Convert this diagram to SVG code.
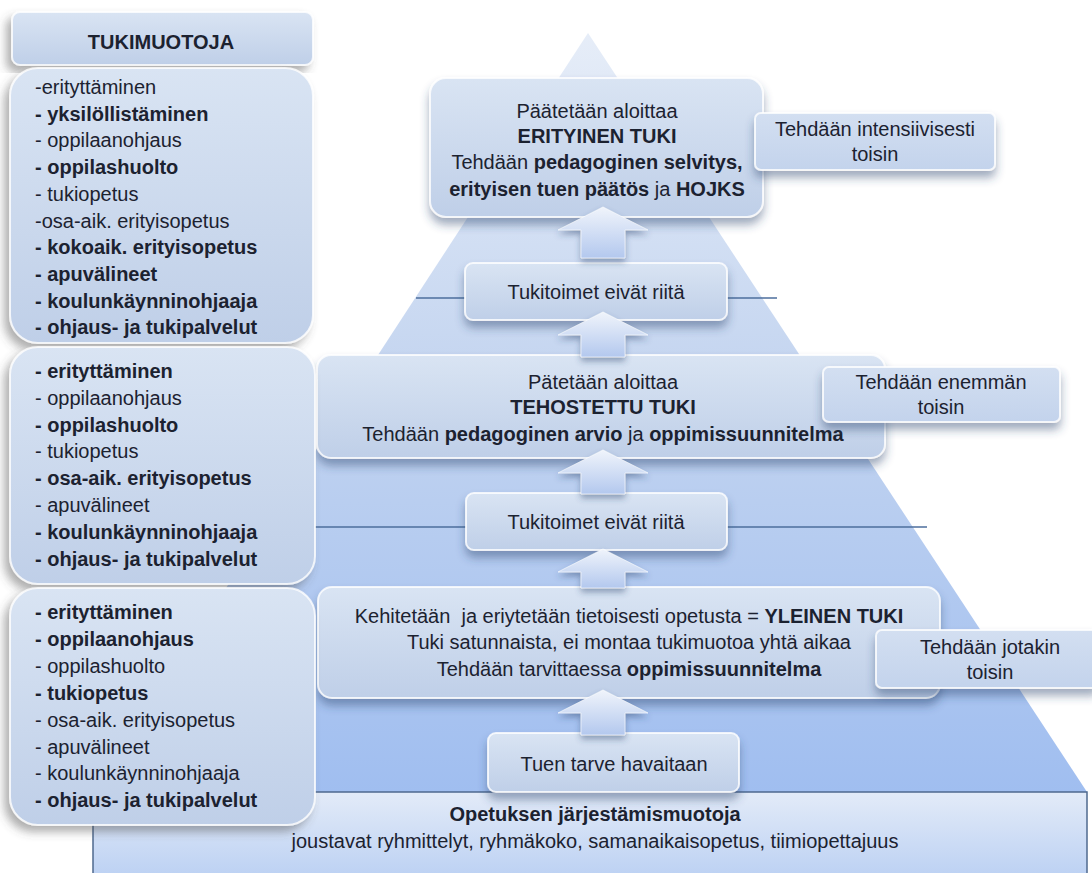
<svg xmlns="http://www.w3.org/2000/svg" width="1092" height="873" viewBox="0 0 1092 873">
<defs>
<linearGradient id="pyr" x1="0" y1="33" x2="0" y2="792" gradientUnits="userSpaceOnUse">
<stop offset="0" stop-color="#e6edf8"/><stop offset="0.45" stop-color="#c4d5f0"/><stop offset="1" stop-color="#a0bef0"/>
</linearGradient>
<linearGradient id="baseG" x1="0" y1="0" x2="0" y2="1">
<stop offset="0" stop-color="#e3ebf8"/><stop offset="1" stop-color="#bcd1f3"/>
</linearGradient>
<linearGradient id="boxG" x1="0" y1="0" x2="0" y2="1">
<stop offset="0" stop-color="#d9e4f3"/><stop offset="1" stop-color="#bfcfe8"/>
</linearGradient>
<linearGradient id="sideG" x1="0" y1="0" x2="0" y2="1">
<stop offset="0" stop-color="#d3dff1"/><stop offset="1" stop-color="#c3d3ec"/>
</linearGradient>
<linearGradient id="arrG" x1="0" y1="0" x2="0" y2="1">
<stop offset="0" stop-color="#f0f4fb"/><stop offset="1" stop-color="#b3c8ee"/>
</linearGradient>
<filter id="sh" x="-10%" y="-20%" width="120%" height="160%">
<feDropShadow dx="0" dy="7" stdDeviation="5" flood-color="#2b4470" flood-opacity="0.45"/>
</filter>
<filter id="shL" x="-10%" y="-10%" width="120%" height="125%">
<feDropShadow dx="-5" dy="6" stdDeviation="5" flood-color="#4a4a4a" flood-opacity="0.45"/>
</filter>
<filter id="shA" x="-20%" y="-20%" width="140%" height="160%">
<feDropShadow dx="0" dy="4" stdDeviation="3" flood-color="#2b4470" flood-opacity="0.45"/>
</filter>
<style>
text{font-family:"Liberation Sans",Arial,sans-serif;font-size:20px;fill:#1c2230}
.b{font-weight:bold}
.c{text-anchor:middle}
.box{fill:url(#boxG);stroke:#ffffff;stroke-opacity:0.8;stroke-width:2}
.side{fill:url(#sideG);stroke:#ffffff;stroke-opacity:0.8;stroke-width:2}
.lvl{stroke:#4d6e9c;stroke-width:1.3}
.arr{fill:url(#arrG);stroke:#ffffff;stroke-opacity:0.6;stroke-width:1}
</style>
</defs>
<rect width="1092" height="873" fill="#ffffff"/>

<g id="pyramid">
<polygon points="588,33 1087,792 93,792" fill="url(#pyr)"/>
</g>
<g id="base">
<rect x="93" y="792" width="994" height="85" fill="url(#baseG)" stroke="#4f6a8f" stroke-width="1.5"/>
<text class="c b" x="595" y="821">Opetuksen järjestämismuotoja</text>
<text class="c" x="595" y="848" font-size="20.5">joustavat ryhmittelyt, ryhmäkoko, samanaikaisopetus, tiimiopettajuus</text>
</g>

<g id="levels">
<line class="lvl" x1="416" y1="298" x2="777" y2="298"/>
<line class="lvl" x1="266" y1="527" x2="927" y2="527"/>
</g>

<g id="erityinen">
<rect class="box" x="430" y="78" width="333" height="139" rx="16" filter="url(#sh)"/>
<text class="c" x="597" y="118">Päätetään aloittaa</text>
<text class="c b" x="597" y="143">ERITYINEN TUKI</text>
<text class="c" x="597" y="169">Tehdään <tspan class="b">pedagoginen selvitys,</tspan></text>
<text class="c" x="597" y="196"><tspan class="b">erityisen tuen päätös</tspan> ja <tspan class="b">HOJKS</tspan></text>
</g>
<g id="tukitoimet1">
<rect class="box" x="465" y="263" width="262" height="57" rx="8" filter="url(#sh)"/>
<text class="c" x="596" y="299">Tukitoimet eivät riitä</text>
</g>
<g id="tehostettu">
<rect class="box" x="317" y="355" width="568" height="103" rx="14" filter="url(#sh)"/>
<text class="c" x="603" y="389">Pätetään aloittaa</text>
<text class="c b" x="603" y="414">TEHOSTETTU TUKI</text>
<text class="c" x="603" y="441">Tehdään <tspan class="b">pedagoginen arvio</tspan> ja <tspan class="b">oppimissuunnitelma</tspan></text>
</g>
<g id="tukitoimet2">
<rect class="box" x="466" y="493" width="261" height="57" rx="8" filter="url(#sh)"/>
<text class="c" x="596" y="529">Tukitoimet eivät riitä</text>
</g>
<g id="yleinen">
<rect class="box" x="318" y="587" width="622" height="111" rx="14" filter="url(#sh)"/>
<text class="c" x="629" y="623" xml:space="preserve">Kehitetään  ja eriytetään tietoisesti opetusta = <tspan class="b">YLEINEN TUKI</tspan></text>
<text class="c" x="629" y="649">Tuki satunnaista, ei montaa tukimuotoa yhtä aikaa</text>
<text class="c" x="629" y="676">Tehdään tarvittaessa <tspan class="b">oppimissuunnitelma</tspan></text>
</g>
<g id="havaitaan">
<rect class="box" x="488" y="733" width="251" height="59" rx="8" filter="url(#sh)"/>
<text class="c" x="614" y="771">Tuen tarve havaitaan</text>
</g>

<g id="connectors">
<polygon class="arr" filter="url(#shA)" points="558,230 603,207 648,230 625,230 625,258 581,258 581,230"/>
<polygon class="arr" filter="url(#shA)" points="558,335 603,312 648,335 625,335 625,357 581,357 581,335"/>
<polygon class="arr" filter="url(#shA)" points="558,473 603,450 648,473 625,473 625,494 581,494 581,473"/>
<polygon class="arr" filter="url(#shA)" points="558,572 603,549 648,572 625,572 625,588 581,588 581,572"/>
<polygon class="arr" filter="url(#shA)" points="558,713 603,690 648,713 625,713 625,735 581,735 581,713"/>
</g>

<g id="side-intensiivisesti">
<rect class="side" x="755" y="113" width="240" height="57" rx="6" filter="url(#sh)"/>
<text class="c" x="875" y="136">Tehdään intensiivisesti</text>
<text class="c" x="875" y="161">toisin</text>
</g>
<g id="side-enemman">
<rect class="side" x="823" y="367" width="237" height="55" rx="6" filter="url(#sh)"/>
<text class="c" x="941" y="389">Tehdään enemmän</text>
<text class="c" x="941" y="414">toisin</text>
</g>
<g id="side-jotakin">
<rect class="side" x="876" y="630" width="222" height="58" rx="6" filter="url(#sh)"/>
<text class="c" x="990" y="654">Tehdään jotakin</text>
<text class="c" x="990" y="679">toisin</text>
</g>

<g id="tukimuotoja-header">
<rect class="box" x="12" y="12" width="301" height="53" rx="8" filter="url(#shL)"/>
<text class="c b" x="161" y="49">TUKIMUOTOJA</text>
</g>
<g id="tukimuodot-erityinen">
<rect class="box" x="10" y="68" width="303" height="275" rx="28" filter="url(#shL)"/>
<text x="35" y="94">-erityttäminen</text>
<text class="b" x="35" y="120.7">- yksilöllistäminen</text>
<text x="35" y="147.4">- oppilaanohjaus</text>
<text class="b" x="35" y="174.1">- oppilashuolto</text>
<text x="35" y="200.8">- tukiopetus</text>
<text x="35" y="227.5">-osa-aik. erityisopetus</text>
<text class="b" x="35" y="254.2">- kokoaik. erityisopetus</text>
<text class="b" x="35" y="280.9">- apuvälineet</text>
<text class="b" x="35" y="307.6">- koulunkäynninohjaaja</text>
<text class="b" x="35" y="334.3">- ohjaus- ja tukipalvelut</text>
</g>
<g id="tukimuodot-tehostettu">
<rect class="box" x="10" y="347" width="305" height="237" rx="28" filter="url(#shL)"/>
<text class="b" x="35" y="378">- erityttäminen</text>
<text x="35" y="404.8">- oppilaanohjaus</text>
<text class="b" x="35" y="431.6">- oppilashuolto</text>
<text x="35" y="458.4">- tukiopetus</text>
<text class="b" x="35" y="485.2">- osa-aik. erityisopetus</text>
<text x="35" y="512">- apuvälineet</text>
<text class="b" x="35" y="538.8">- koulunkäynninohjaaja</text>
<text class="b" x="35" y="565.6">- ohjaus- ja tukipalvelut</text>
</g>
<g id="tukimuodot-yleinen">
<rect class="box" x="10" y="588" width="305" height="237" rx="28" filter="url(#shL)"/>
<text class="b" x="35" y="619">- erityttäminen</text>
<text class="b" x="35" y="645.9">- oppilaanohjaus</text>
<text x="35" y="672.8">- oppilashuolto</text>
<text class="b" x="35" y="699.7">- tukiopetus</text>
<text x="35" y="726.6">- osa-aik. erityisopetus</text>
<text x="35" y="753.5">- apuvälineet</text>
<text x="35" y="780.4">- koulunkäynninohjaaja</text>
<text class="b" x="35" y="807.3">- ohjaus- ja tukipalvelut</text>
</g>
</svg>
